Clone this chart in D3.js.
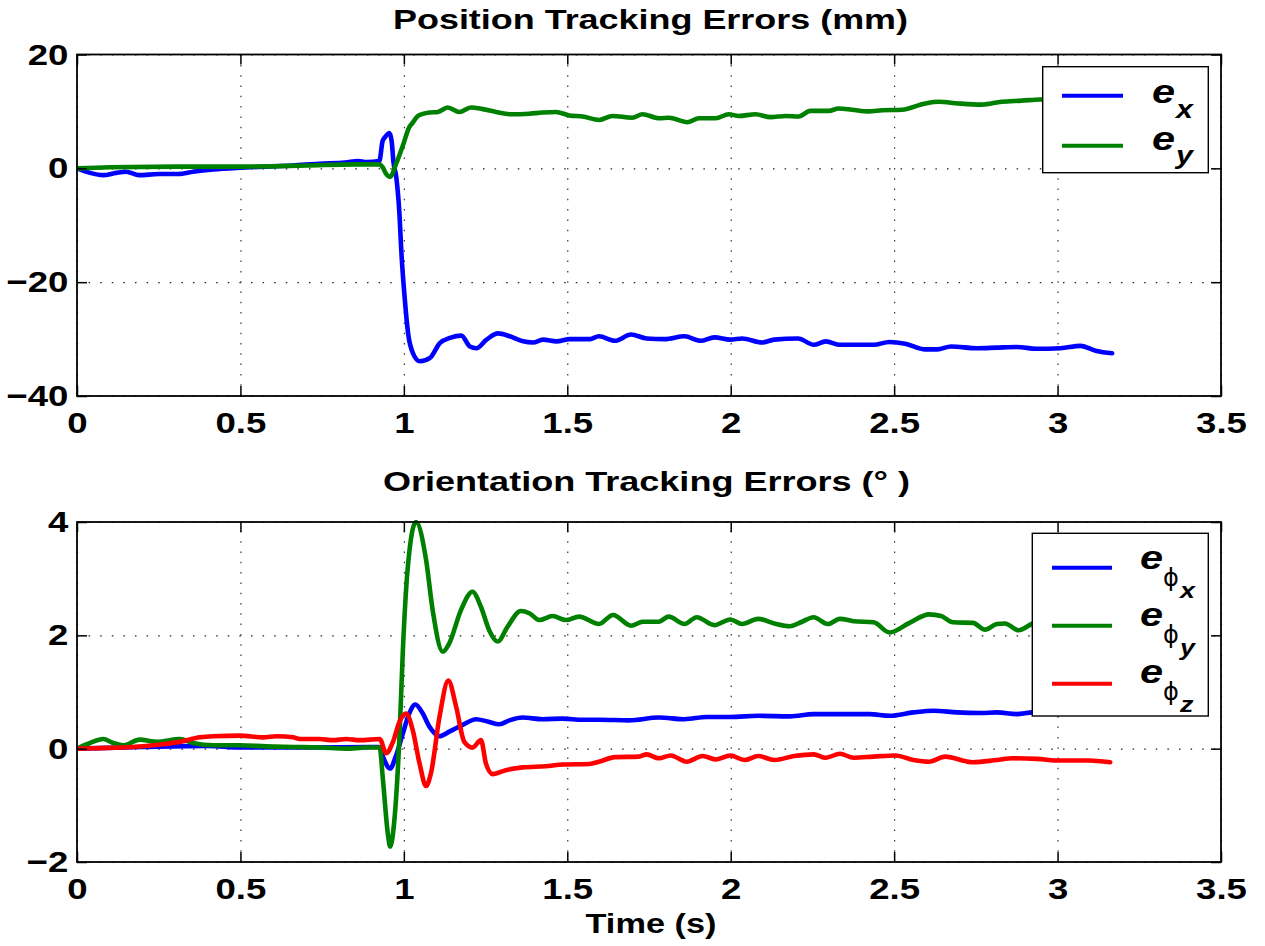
<!DOCTYPE html>
<html>
<head>
<meta charset="utf-8">
<script src="https://cdn.jsdelivr.net/npm/d3@7"></script>
<style>
  body { margin: 0; background: #fff; }
  svg { display: block; font-family: "Liberation Sans", Arial, Helvetica, sans-serif; }
</style>
</head>
<body>
<svg id="fig" width="1265" height="946"></svg>
<script>
// ---- tick values ----
const timeTicks = [0, 0.5, 1, 1.5, 2, 2.5, 3, 3.5];
const posTicks = [-40, -20, 0, 20];
const oriTicks = [-2, 0, 2, 4];

// ---- position errors (mm), [time s, value] ----
const posErrX = [
  [0,0],[0.04,-0.8],[0.08,-1.2],[0.12,-0.8],[0.15,-0.6],[0.19,-1.2],[0.25,-1.0],[0.31,-1.0],
  [0.355,-0.6],[0.417,-0.2],[0.5,0.1],[0.58,0.3],[0.66,0.5],[0.74,0.8],[0.82,1.0],[0.86,1.3],
  [0.885,1.1],[0.925,1.3],[0.935,4.8],[0.944,5.6],[0.956,6.2],[0.963,4.6],[0.968,1.2],[0.977,-1.6],
  [0.987,-8.5],[0.992,-14.3],[1.003,-23.1],[1.013,-29],[1.028,-32.5],[1.049,-33.9],[1.08,-33.3],
  [1.11,-30.7],[1.141,-29.8],[1.176,-29.4],[1.202,-31.3],[1.222,-31.6],[1.253,-30.1],[1.288,-29.0],
  [1.324,-29.5],[1.365,-30.4],[1.395,-30.6],[1.426,-30.1],[1.467,-30.4],[1.508,-30.0],[1.569,-30.0],
  [1.597,-29.5],[1.646,-30.3],[1.695,-29.2],[1.743,-29.9],[1.798,-30.0],[1.859,-29.5],[1.908,-30.3],
  [1.95,-29.7],[1.999,-30.1],[2.035,-29.9],[2.096,-30.6],[2.133,-30.1],[2.206,-29.9],[2.254,-31.0],
  [2.291,-30.4],[2.334,-31.0],[2.437,-31.0],[2.486,-30.5],[2.534,-30.8],[2.595,-31.8],[2.632,-31.8],
  [2.674,-31.3],[2.754,-31.6],[2.814,-31.5],[2.875,-31.4],[2.936,-31.7],[3.009,-31.6],[3.07,-31.2],
  [3.119,-32.1],[3.167,-32.5]
];
const posErrY = [
  [0,0],[0.1,0.2],[0.3,0.3],[0.5,0.3],[0.7,0.5],[0.85,0.7],[0.925,0.7],[0.935,0.2],[0.945,-0.9],
  [0.958,-1.5],[0.977,0.9],[0.997,4.0],[1.017,7.3],[1.027,8.0],[1.043,9.2],[1.078,9.8],[1.104,9.9],
  [1.134,10.7],[1.17,9.9],[1.205,10.7],[1.241,10.4],[1.282,9.9],[1.328,9.5],[1.384,9.6],[1.424,9.8],
  [1.465,9.9],[1.506,9.3],[1.547,9.1],[1.598,8.5],[1.638,9.2],[1.699,8.9],[1.73,9.5],[1.781,8.8],
  [1.811,8.9],[1.867,8.1],[1.903,8.8],[1.954,8.8],[1.994,9.5],[2.025,9.2],[2.076,9.5],[2.122,9.0],
  [2.168,9.2],[2.208,9.1],[2.244,10.1],[2.3,10.1],[2.33,10.5],[2.371,10.3],[2.422,10.0],[2.463,10.2],
  [2.524,10.3],[2.595,11.4],[2.636,11.7],[2.697,11.4],[2.768,11.2],[2.829,11.7],[2.89,11.9],
  [2.946,12.1],[3.05,12.3],[3.167,12.5]
];

// ---- orientation errors (deg), [time s, value] ----
const oriErrX = [
  [0,0],[0.2,0.03],[0.4,0.05],[0.5,0.02],[0.7,0.02],[0.9,0.03],[0.925,0.03],[0.936,-0.14],
  [0.958,-0.35],[0.975,-0.14],[0.997,0.27],[1.015,0.6],[1.035,0.78],[1.058,0.62],[1.078,0.39],
  [1.109,0.22],[1.139,0.3],[1.18,0.42],[1.221,0.52],[1.256,0.48],[1.292,0.43],[1.323,0.5],
  [1.363,0.55],[1.424,0.52],[1.486,0.53],[1.547,0.51],[1.597,0.51],[1.689,0.5],[1.78,0.55],
  [1.859,0.52],[1.926,0.56],[1.999,0.56],[2.084,0.58],[2.181,0.57],[2.254,0.61],[2.327,0.61],
  [2.425,0.61],[2.486,0.58],[2.559,0.64],[2.62,0.67],[2.693,0.64],[2.766,0.63],[2.814,0.64],
  [2.875,0.61],[2.924,0.64],[3.0,0.62],[3.08,0.63],[3.167,0.62]
];
const oriErrY = [
  [0,0],[0.04,0.1],[0.08,0.17],[0.111,0.1],[0.141,0.06],[0.192,0.16],[0.244,0.12],[0.315,0.17],
  [0.355,0.1],[0.417,0.06],[0.498,0.06],[0.579,0.04],[0.661,0.03],[0.742,0.02],[0.824,0],
  [0.885,0.02],[0.926,0.02],[0.936,-0.55],[0.951,-1.5],[0.958,-1.73],[0.971,-1.26],[0.987,0.27],
  [0.997,1.74],[1.012,3.2],[1.037,4.0],[1.068,3.33],[1.088,2.45],[1.119,1.71],[1.139,1.86],
  [1.175,2.45],[1.21,2.77],[1.236,2.5],[1.261,2.09],[1.287,1.89],[1.317,2.15],[1.358,2.43],
  [1.384,2.39],[1.414,2.27],[1.455,2.34],[1.496,2.27],[1.536,2.33],[1.597,2.2],[1.64,2.36],
  [1.695,2.17],[1.731,2.24],[1.78,2.24],[1.81,2.33],[1.859,2.2],[1.896,2.32],[1.95,2.18],
  [1.999,2.28],[2.035,2.2],[2.084,2.29],[2.133,2.21],[2.181,2.16],[2.218,2.24],[2.254,2.32],
  [2.297,2.2],[2.334,2.29],[2.376,2.25],[2.437,2.23],[2.486,2.05],[2.547,2.22],[2.607,2.37],
  [2.644,2.34],[2.68,2.23],[2.741,2.22],[2.778,2.1],[2.814,2.2],[2.839,2.21],[2.881,2.09],
  [2.93,2.22],[3.0,2.25],[3.08,2.2],[3.167,2.22]
];
const oriErrZ = [
  [0,0],[0.07,0.01],[0.17,0.03],[0.25,0.07],[0.315,0.12],[0.376,0.2],[0.417,0.22],[0.498,0.23],
  [0.569,0.2],[0.61,0.22],[0.661,0.2],[0.682,0.17],[0.742,0.17],[0.783,0.15],[0.824,0.17],
  [0.865,0.15],[0.926,0.17],[0.946,-0.08],[0.966,0.11],[0.987,0.48],[1.007,0.62],[1.027,0.33],
  [1.048,-0.26],[1.068,-0.66],[1.083,-0.43],[1.109,0.56],[1.136,1.2],[1.16,0.74],[1.185,0.12],
  [1.21,0.02],[1.236,0.15],[1.251,-0.26],[1.272,-0.45],[1.312,-0.38],[1.363,-0.33],[1.434,-0.31],
  [1.486,-0.28],[1.567,-0.27],[1.597,-0.23],[1.646,-0.15],[1.719,-0.14],[1.743,-0.1],[1.78,-0.17],
  [1.816,-0.12],[1.865,-0.23],[1.914,-0.13],[1.956,-0.19],[1.999,-0.12],[2.042,-0.2],[2.084,-0.13],
  [2.133,-0.2],[2.194,-0.13],[2.254,-0.1],[2.291,-0.16],[2.334,-0.09],[2.376,-0.16],[2.437,-0.14],
  [2.504,-0.12],[2.559,-0.2],[2.607,-0.23],[2.656,-0.14],[2.741,-0.24],[2.814,-0.2],[2.863,-0.17],
  [2.936,-0.18],[3.009,-0.21],[3.094,-0.21],[3.161,-0.24]
];

const posSubs = ["x", "y"];
const oriSubs = ["x", "y", "z"];

// ---- layout ----
const SX = 1.22;          // glyphs are drawn slightly wide
const LEFT = 77, RIGHT = 1221;
const BLUE = "#0000ff", GREEN = "#008000", RED = "#ff0000";
const svg = d3.select("#fig");
const x = d3.scaleLinear().domain([0, 3.5]).range([LEFT, RIGHT]);
const fmt = d3.format("~g");

function stretchedText(g, px, py, str, opts) {
  const sx = opts.sx || SX;
  return g.append("text")
    .attr("transform", `translate(${px},${py}) scale(${sx},1)`)
    .attr("font-size", opts.size)
    .attr("font-weight", opts.weight || "bold")
    .attr("font-style", opts.italic ? "italic" : "normal")
    .attr("font-family", opts.family || null)
    .attr("text-anchor", opts.anchor || "start")
    .text(str);
}

function drawPanel(p, idx) {
  const y = d3.scaleLinear().domain(p.yDomain).range([p.bottom, p.top]);
  const h = p.bottom - p.top, w = RIGHT - LEFT;
  const g = svg.append("g");

  // dotted grid
  g.append("g").attr("transform", `translate(0,${p.bottom})`)
    .call(d3.axisBottom(x).tickValues(timeTicks).tickSize(-h).tickFormat(""))
    .call(a => {
      a.select(".domain").remove();
      a.selectAll("line").attr("stroke", "#222").attr("stroke-width", 1.1).attr("stroke-dasharray", "1.5,8.8");
    });
  g.append("g").attr("transform", `translate(${LEFT},0)`)
    .call(d3.axisLeft(y).tickValues(p.yTicks).tickSize(-w).tickFormat(""))
    .call(a => {
      a.select(".domain").remove();
      a.selectAll("line").attr("stroke", "#222").attr("stroke-width", 1.1).attr("stroke-dasharray", "1.5,10.1");
    });

  // series
  const clipId = "clip" + idx;
  svg.append("clipPath").attr("id", clipId)
    .append("rect").attr("x", LEFT).attr("y", p.top - 2).attr("width", w).attr("height", h + 4);
  const line = d3.line().x(d => x(d[0])).y(d => y(d[1])).curve(d3.curveMonotoneX);
  g.append("g").attr("clip-path", `url(#${clipId})`)
    .selectAll("path").data(p.series).join("path")
    .attr("d", s => line(s.data))
    .attr("fill", "none")
    .attr("stroke", s => s.color)
    .attr("stroke-width", 4.6)
    .attr("stroke-linejoin", "round")
    .attr("stroke-linecap", "round");

  // box
  g.append("rect").attr("x", LEFT).attr("y", p.top).attr("width", w).attr("height", h)
    .attr("fill", "none").attr("stroke", "#000").attr("stroke-width", 1.8);

  // inward ticks on all four sides
  const styleTicks = a => {
    a.select(".domain").remove();
    a.selectAll("line").attr("stroke", "#000").attr("stroke-width", 1.5);
    a.selectAll("text")
      .attr("fill", "#000")
      .attr("font-size", 30)
      .attr("font-weight", "bold")
      .attr("font-family", "Liberation Sans, Arial, sans-serif")
      .attr("transform", `scale(${SX},1)`);
  };
  g.append("g").attr("transform", `translate(0,${p.bottom})`)
    .call(d3.axisBottom(x).tickValues(timeTicks).tickSizeInner(-10).tickSizeOuter(0).tickPadding(16).tickFormat(fmt))
    .call(styleTicks);
  g.append("g").attr("transform", `translate(0,${p.top})`)
    .call(d3.axisTop(x).tickValues(timeTicks).tickSizeInner(-10).tickSizeOuter(0).tickFormat(""))
    .call(styleTicks);
  g.append("g").attr("transform", `translate(${LEFT},0)`)
    .call(d3.axisLeft(y).tickValues(p.yTicks).tickSizeInner(-10).tickSizeOuter(0).tickPadding(7).tickFormat(fmt))
    .call(styleTicks);
  g.append("g").attr("transform", `translate(${RIGHT},0)`)
    .call(d3.axisRight(y).tickValues(p.yTicks).tickSizeInner(-10).tickSizeOuter(0).tickFormat(""))
    .call(styleTicks);

  // title
  g.append("text")
    .attr("x", p.titleX - p.titleW / 2).attr("y", p.titleY)
    .attr("font-size", 28).attr("font-weight", "bold")
    .attr("textLength", p.titleW).attr("lengthAdjust", "spacingAndGlyphs")
    .text(p.title);

  // legend
  const L = p.legend;
  const lg = g.append("g");
  lg.append("rect").attr("x", L.x).attr("y", L.y).attr("width", L.w).attr("height", L.h)
    .attr("fill", "#fff").attr("stroke", "#000").attr("stroke-width", 1.4);
  p.series.forEach((s, i) => {
    const ly = L.rows[i];
    lg.append("line").attr("x1", L.lx1).attr("x2", L.lx2).attr("y1", ly).attr("y2", ly)
      .attr("stroke", s.color).attr("stroke-width", 4);
    const base = ly + L.eDy[i];
    stretchedText(lg, L.ex, base, "e", { size: 34, italic: true });
    if (L.phi) {
      stretchedText(lg, L.ex + 23, base + 17, "\u03D5", { size: 24, weight: "normal", sx: 1, family: "DejaVu Sans, sans-serif" });
      stretchedText(lg, L.ex + 40, base + 29, s.sub, { size: 22, italic: true });
    } else {
      stretchedText(lg, L.ex + 24, base + L.subDy[i], s.sub, { size: 25, italic: true });
    }
  });
}

const panels = [
  {
    title: "Position Tracking Errors (mm)", titleX: 650.5, titleY: 29, titleW: 515,
    top: 54.5, bottom: 396, yDomain: [-40, 20], yTicks: posTicks,
    series: [
      { data: posErrX, color: BLUE, sub: posSubs[0] },
      { data: posErrY, color: GREEN, sub: posSubs[1] }
    ],
    legend: { x: 1042.7, y: 66.7, w: 165.6, h: 106, lx1: 1062, lx2: 1123, rows: [95.7, 145.7],
              eDy: [7, 4.5], subDy: [15.6, 13.3], ex: 1152, phi: false }
  },
  {
    title: "Orientation Tracking Errors (\u00B0 )", titleX: 646.5, titleY: 491, titleW: 527,
    top: 522, bottom: 862, yDomain: [-2, 4], yTicks: oriTicks,
    series: [
      { data: oriErrX, color: BLUE, sub: oriSubs[0] },
      { data: oriErrY, color: GREEN, sub: oriSubs[1] },
      { data: oriErrZ, color: RED, sub: oriSubs[2] }
    ],
    legend: { x: 1032.3, y: 533.3, w: 176, h: 182.7, lx1: 1052, lx2: 1112, rows: [567.7, 625.7, 683.7],
              eDy: [1.6, 0.3, -0.4], ex: 1140, phi: true }
  }
];

panels.forEach(drawPanel);

// shared time axis label
svg.append("text")
  .attr("x", 651 - 131 / 2).attr("y", 933)
  .attr("font-size", 28).attr("font-weight", "bold")
  .attr("textLength", 131).attr("lengthAdjust", "spacingAndGlyphs")
  .text("Time (s)");
</script>
</body>
</html>
